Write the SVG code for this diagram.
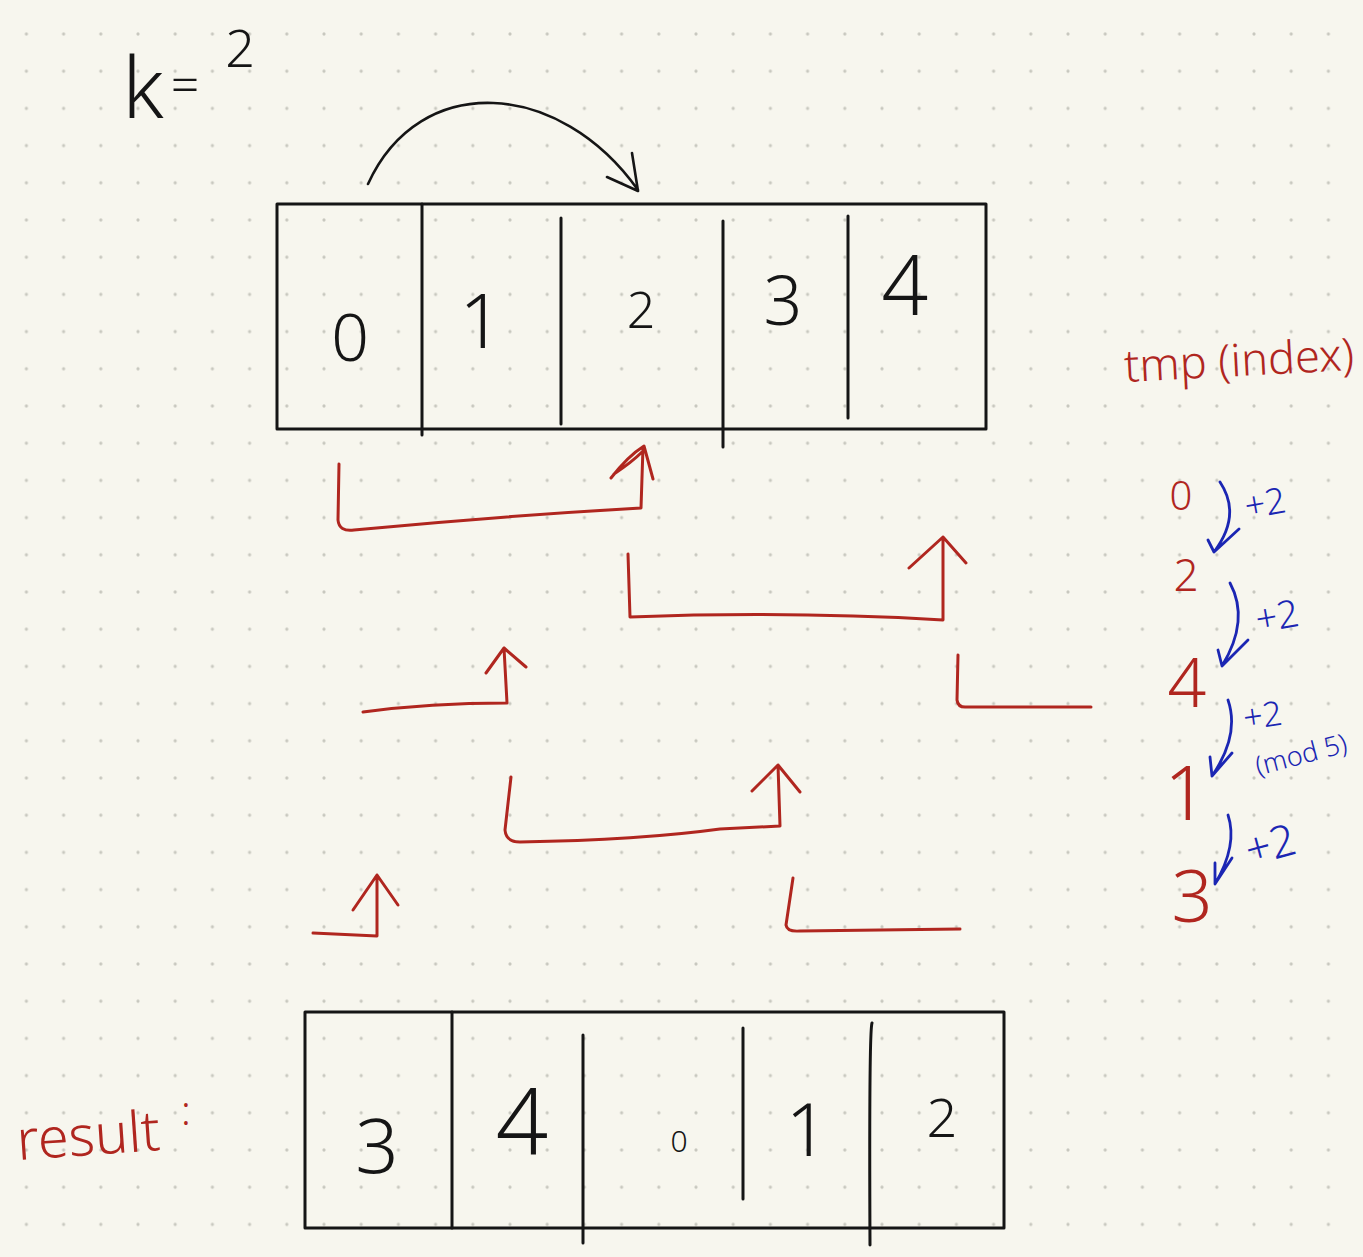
<svg xmlns="http://www.w3.org/2000/svg" width="1363" height="1257" viewBox="0 0 1363 1257">
  <style>
    .ink { fill: none; stroke: #151515; stroke-width: 3; stroke-linecap: round; stroke-linejoin: round; }
    .arc { fill: none; stroke: #151515; stroke-width: 2.6; stroke-linecap: round; stroke-linejoin: round; }
    .red { fill: none; stroke: #b0261f; stroke-width: 3; stroke-linecap: round; stroke-linejoin: round; }
    .blue { fill: none; stroke: #1b26b3; stroke-width: 2.8; stroke-linecap: round; stroke-linejoin: round; }
    .tb { font-family: "Noto Sans", "Liberation Sans", sans-serif; font-weight: 300; fill: #151515; text-anchor: middle; }
    .tr { font-family: "Noto Sans", "Liberation Sans", sans-serif; font-weight: 300; fill: #b0261f; }
    .tbl { font-family: "Noto Sans", "Liberation Sans", sans-serif; font-weight: 300; fill: #1b26b3; }
    .mid { text-anchor: middle; }
  </style>
  <defs>
    <pattern id="dots" x="7.8" y="15.4" width="37.2" height="37.2" patternUnits="userSpaceOnUse">
      <circle cx="18.6" cy="18.6" r="1.6" fill="#c8c8bf"/>
    </pattern>
  </defs>
  <rect width="1363" height="1257" fill="#f7f6ee"/>
  <rect width="1363" height="1257" fill="url(#dots)"/>

  <g id="k-label">
    <text class="tb" x="143" y="118" font-size="84">k</text>
    <text class="tb" x="185" y="102" font-size="50">=</text>
    <text class="tb" x="240" y="67" font-size="52">2</text>
  </g>

  <g id="array-input">
    <rect class="ink" x="277" y="204" width="709" height="225"/>
    <path class="ink" d="M422,204 L422,435 M561,218 L561,424 M723,221 L723,447 M848,216 L848,418"/>
    <text class="tb" x="350" y="361" font-size="66">0</text>
    <text class="tb" x="481" y="348" font-size="76">1</text>
    <text class="tb" x="641" y="328" font-size="50">2</text>
    <text class="tb" x="783" y="325" font-size="68">3</text>
    <text class="tb" x="905" y="315" font-size="82">4</text>
  </g>

  <g id="tmp-label">
    <text class="tr" x="1125" y="382" font-size="45" transform="rotate(-3 1125 382)">tmp (index)</text>
  </g>

  <g id="index-sequence">
    <text class="tr mid" x="1181" y="510" font-size="40">0</text>
    <text class="tr mid" x="1186" y="591" font-size="44">2</text>
    <text class="tr mid" x="1187" y="707" font-size="68">4</text>
    <text class="tr mid" x="1186" y="820" font-size="76">1</text>
    <text class="tr mid" x="1192" y="922" font-size="72">3</text>
    <text class="tbl" x="1247" y="519" font-size="36" transform="rotate(-10 1247 519)">+2</text>
    <text class="tbl" x="1258" y="633" font-size="38" transform="rotate(-10 1258 633)">+2</text>
    <text class="tbl" x="1245" y="730" font-size="34" transform="rotate(-8 1245 730)">+2</text>
    <text class="tbl mid" x="1301" y="764" font-size="27" transform="rotate(-15 1301 754)">(mod 5)</text>
    <text class="tbl" x="1250" y="866" font-size="44" transform="rotate(-15 1250 866)">+2</text>
  </g>

  <g id="result-label">
    <text class="tr" x="18" y="1160" font-size="56" transform="rotate(-4 18 1160)">result</text>
    <text class="tr" x="181" y="1125" font-size="40">:</text>
  </g>

  <g id="array-result">
    <rect class="ink" x="305" y="1012" width="699" height="216"/>
    <path class="ink" d="M452,1012 L452,1228 M583,1035 L583,1243 M743,1028 L743,1199 M872,1023 Q869,1032 870,1245"/>
    <text class="tb" x="377" y="1173" font-size="76">3</text>
    <text class="tb" x="522" y="1154" font-size="92">4</text>
    <text class="tb" x="679" y="1152" font-size="30">0</text>
    <text class="tb" x="807" y="1156" font-size="74">1</text>
    <text class="tb" x="942" y="1137" font-size="54">2</text>
  </g>

  <g id="connectors">
    <path class="arc" d="M368,184 C420,70 560,80 638,190 M632,153 L638,191 L607,177"/>
    <path class="red" d="M339,464 L338,520 Q339,532 354,530 Q500,516 641,508 L643,447 M611,478 Q628,456 644,446 L653,479 M614,474 Q632,462 642,452"/>
    <path class="red" d="M628,554 L630,617 Q790,611 943,620 L943,537 M909,568 L943,537 L966,563"/>
    <path class="red" d="M363,712 Q430,703 507,703 L504,648 M486,673 L504,648 L526,667"/>
    <path class="red" d="M958,655 L957,700 Q958,708 967,707 L1091,707"/>
    <path class="red" d="M511,777 L505,830 Q506,842 520,842 Q640,840 720,829 L780,826 L778,765 M752,791 L778,765 L800,792"/>
    <path class="red" d="M313,933 L377,936 L377,875 M353,910 L377,875 L398,905"/>
    <path class="red" d="M793,878 L786,925 Q787,932 800,931 L960,929"/>
    <path class="blue" d="M1220,482 Q1242,515 1214,552 M1208,540 L1214,552 L1239,529"/>
    <path class="blue" d="M1230,583 Q1250,620 1222,666 M1218,650 L1222,666 L1248,640"/>
    <path class="blue" d="M1228,700 Q1240,735 1212,776 M1210,757 L1212,776 L1232,753"/>
    <path class="blue" d="M1228,815 Q1238,845 1215,884 M1215,863 L1215,884 L1232,858"/>
  </g>
</svg>
